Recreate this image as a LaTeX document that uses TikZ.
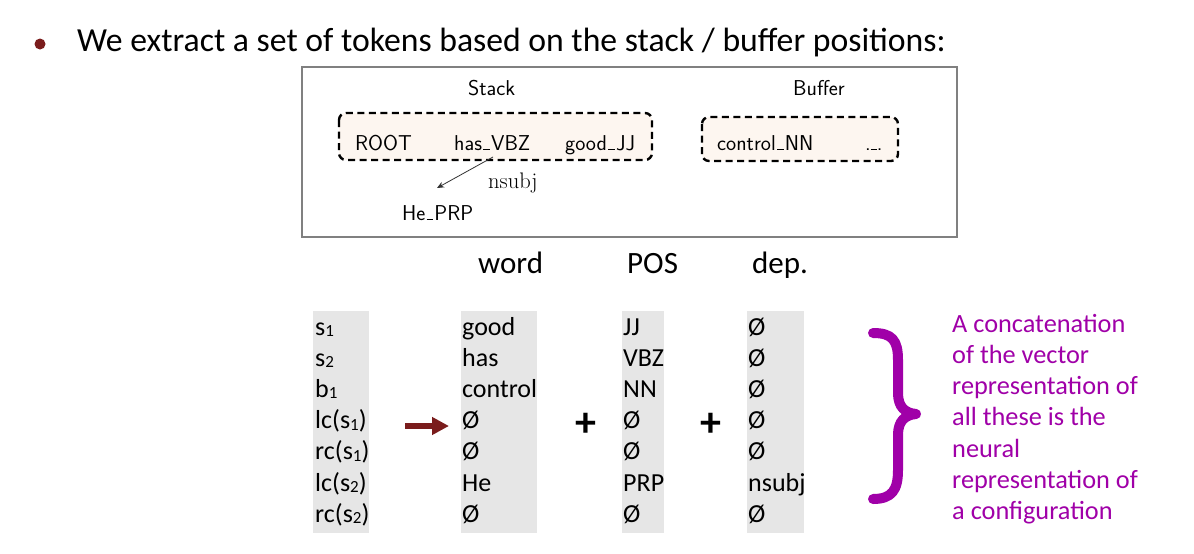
\documentclass[tikz,border=0pt]{standalone}
\usepackage{fontspec}
\newfontfamily\calfont{Carlito}
\newfontfamily\lmsans{Latin Modern Sans}
\newfontfamily\lmrom{Latin Modern Roman}
\usetikzlibrary{arrows.meta}
\definecolor{bulletred}{RGB}{122,28,28}
\definecolor{arrred}{RGB}{122,28,28}
\definecolor{purp}{RGB}{160,0,168}
\definecolor{cellgray}{RGB}{230,230,230}
\definecolor{peach}{RGB}{253,246,240}
\definecolor{boxgray}{RGB}{128,128,128}
\newcommand{\mysub}[1]{\raisebox{-1.5pt}{\fontsize{17}{17}\selectfont #1}}
\newcommand{\us}{\kern.06em\rule{.3em}{.05em}\kern.06em}
\tikzset{
  heading/.style={font=\calfont\fontsize{33.7}{40}\selectfont, anchor=base west, inner sep=0},
  lmtext/.style={font=\lmsans\fontsize{21.5}{25}\selectfont, anchor=base west, inner sep=0},
  cell/.style={font=\calfont\fontsize{26}{31}\selectfont, anchor=base west, inner sep=0},
  colhead/.style={font=\calfont\fontsize{31}{36}\selectfont, anchor=base west, inner sep=0},
  purptext/.style={font=\calfont\fontsize{26.3}{31}\selectfont, anchor=base west, inner sep=0, text=purp},
  dashbox/.style={draw=black, fill=peach, line width=2.4pt, dash pattern=on 7pt off 4.5pt, rounded corners=7pt},
  plussign/.style={font=\calfont\bfseries\fontsize{42}{42}\selectfont, inner sep=0},
}
\begin{document}
\begin{tikzpicture}[x=1pt,y=-1pt]
\useasboundingbox (0,0) rectangle (1194,554);
\fill[white] (0,0) rectangle (1194,554);
% heading
\fill[bulletred] (40,44) circle (5.5);
\node[heading] (head) at (77,51) {We extract a set of tokens based on the stack / buffer positions:};
% configuration box
\draw[boxgray, line width=1.3pt] (302,67) rectangle (957,237);
\draw[dashbox] (339,113) rectangle (652,160);
\draw[dashbox] (702,117) rectangle (898,161);
\node[lmtext] (stack) at (468,95) {Stack};
\node[lmtext] (buffer) at (793,95) {Buffer};
\node[lmtext] (root) at (355,150) {ROOT};
\node[lmtext] (has) at (454,150) {has\us VBZ};
\node[lmtext] (good) at (565,150) {good\us JJ};
\node[lmtext] (control) at (717,150) {control\us NN};
\node[lmtext] (dots) at (865,150) {.\rule{6pt}{0.9pt}.};
\node[lmtext] (he) at (402,220) {He\us PRP};
\node[font=\lmrom\fontsize{22.5}{26}\selectfont, anchor=base west, inner sep=0] (nsubj) at (488,188) {nsubj};
\coordinate (arrs) at (493,157);
\coordinate (arre) at (437,188);
\draw[line width=0.8pt, black!80, -{Stealth[length=7pt,width=6pt]}] (arrs) -- (arre);
% column headers
\node[colhead] (hword) at (478,273) {word};
\node[colhead] (hpos) at (627,273) {POS};
\node[colhead] (hdep) at (752,273) {dep.};
% gray columns
\fill[cellgray] (313,311) rectangle (369,533);
\fill[cellgray] (461,311) rectangle (537,533);
\fill[cellgray] (622,311) rectangle (664,533);
\fill[cellgray] (747,311) rectangle (804,533);
% rows
\foreach \i/\a/\b/\c/\d in {
  0/{s\mysub{1}}/good/JJ/Ø,
  1/{s\mysub{2}}/has/VBZ/Ø,
  2/{b\mysub{1}}/control/NN/Ø,
  3/{lc(s\mysub{1})}/Ø/Ø/Ø,
  4/{rc(s\mysub{1})}/Ø/Ø/Ø,
  5/{lc(s\mysub{2})}/He/PRP/nsubj,
  6/{rc(s\mysub{2})}/Ø/Ø/Ø}{
  \node[cell] (f\i) at (315,335+31.2*\i) {\a};
  \node[cell] (w\i) at (462,335+31.2*\i) {\b};
  \node[cell] (p\i) at (623,335+31.2*\i) {\c};
  \node[cell] (d\i) at (748,335+31.2*\i) {\d};
}
% red arrow
\coordinate (ra) at (405,426);
\coordinate (rb) at (449,426);
\draw[arrred, line width=6pt, -{Triangle[length=17pt,width=17pt]}] (ra) -- (rb);
% plus signs
\node[plussign] (plus1) at (586,425) {+};
\node[plussign] (plus2) at (711,425) {+};
% brace
\draw[purp, line width=10pt, line cap=round, line join=round]
  (873,333) .. controls (892,333) and (898,340) .. (898,360) -- (898,393)
  .. controls (898,407) and (905,413) .. (916,414)
  .. controls (905,415) and (898,421) .. (898,435) -- (898,470)
  .. controls (898,490) and (892,499) .. (873,499);
% purple text
\foreach \t [count=\k from 0] in {A concatenation, of the vector, representation of, all these is the, neural, representation of, a configuration}{
  \node[purptext] (pt\k) at (952,332+31.3*\k) {\t};
}
\end{tikzpicture}
\end{document}
